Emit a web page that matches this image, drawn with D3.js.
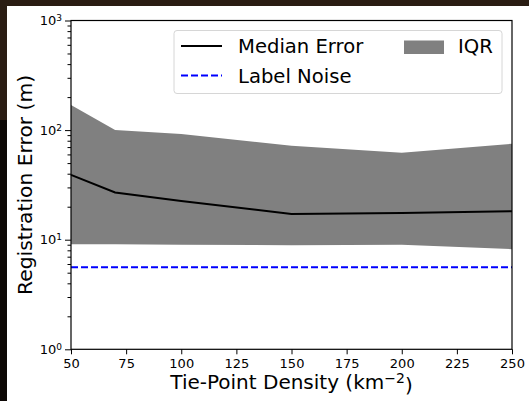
<!DOCTYPE html>
<html>
<head>
<meta charset="utf-8">
<script src="https://cdn.jsdelivr.net/npm/d3@7"></script>
<style>
  body { margin: 0; background: #1c130d; }
  text { font-family: "DejaVu Sans", sans-serif; }
</style>
</head>
<body>
<script>
const density = [50, 70, 100, 150, 200, 250]
const median = [39, 27, 22.5, 17.2, 17.5, 18.2]
const iqrHigh = [169, 100, 92, 72, 62, 75]
const iqrLow = [9.1, 9.1, 9.0, 8.9, 9.0, 8.2]
const labelNoise = 5.6
const xTicks = [50, 75, 100, 125, 150, 175, 200, 225, 250]
const yTicks = [1, 10, 100, 1000]

const WIDTH = 529
const HEIGHT = 401
const LEFT = 71
const RIGHT = 512
const TOP = 20.5
const BOTTOM = 349.3

const svg = d3.select('body').append('svg').attr('width', WIDTH).attr('height', HEIGHT)

// fond sombre + figure blanche
svg.append('rect').attr('width', WIDTH).attr('height', HEIGHT).attr('fill', '#2a1d13')
svg.append('rect').attr('x', 0).attr('y', 120).attr('width', 7).attr('height', HEIGHT - 120).attr('fill', '#0d0806')
svg.append('rect').attr('x', 7).attr('y', 6).attr('width', WIDTH - 7).attr('height', HEIGHT - 6).attr('fill', '#fff')

const x = d3.scaleLinear().domain([50, 250]).range([LEFT, RIGHT])
const y = d3.scaleLog().domain([1, 1000]).range([BOTTOM, TOP])

// IQR
const area = d3.area()
    .x((d, i) => x(density[i]))
    .y0((d, i) => y(iqrLow[i]))
    .y1((d, i) => y(iqrHigh[i]))
svg.append('path').datum(density).attr('d', area).attr('fill', '#808080')

// mediane
const line = d3.line().x((d, i) => x(density[i])).y(d => y(d))
svg.append('path').datum(median).attr('d', line)
    .attr('fill', 'none').attr('stroke', '#000').attr('stroke-width', 2)

// bruit des labels
svg.append('line')
    .attr('x1', x(50)).attr('x2', x(250))
    .attr('y1', y(labelNoise)).attr('y2', y(labelNoise))
    .attr('stroke', '#0000ff').attr('stroke-width', 2).attr('stroke-dasharray', '7,3')

// cadre
svg.append('rect').attr('x', LEFT).attr('y', TOP).attr('width', RIGHT - LEFT).attr('height', BOTTOM - TOP)
    .attr('fill', 'none').attr('stroke', '#000').attr('stroke-width', 1.2)

// axe x
const axisX = d3.axisBottom(x).tickValues(xTicks).tickSize(5).tickPadding(4)
const gx = svg.append('g').attr('transform', `translate(0, ${BOTTOM})`).call(axisX)
gx.select('.domain').remove()
gx.selectAll('text').attr('font-size', 13).attr('fill', '#000').attr('font-family', 'DejaVu Sans')

// axe y (log) : ticks mineurs
const minor = []
for (let e = 0; e < 3; e++) for (let k = 2; k < 10; k++) minor.push(k * Math.pow(10, e))
const gyMinor = svg.append('g').attr('transform', `translate(${LEFT}, 0)`)
    .call(d3.axisLeft(y).tickValues(minor).tickSize(3.5).tickFormat(''))
gyMinor.select('.domain').remove()

const gy = svg.append('g').attr('transform', `translate(${LEFT}, 0)`)
    .call(d3.axisLeft(y).tickValues(yTicks).tickSize(6).tickFormat(''))
gy.select('.domain').remove()
gy.selectAll('.tick').append('text')
    .attr('x', -9).attr('dy', '0.32em').attr('text-anchor', 'end')
    .attr('font-size', 13).attr('fill', '#000')
    .each(function (d) {
        const t = d3.select(this)
        t.append('tspan').text('10')
        t.append('tspan').attr('dy', '-0.45em').attr('font-size', 9).text(Math.round(Math.log10(d)))
    })

// titres des axes
svg.append('text').attr('x', (LEFT + RIGHT) / 2).attr('y', 389).attr('text-anchor', 'middle')
    .attr('font-size', 20).each(function () {
        const t = d3.select(this)
        t.append('tspan').text('Tie-Point Density (km')
        t.append('tspan').attr('dy', '-0.45em').attr('font-size', 14).text('\u22122')
        t.append('tspan').attr('dy', '0.45em').text(')')
    })
svg.append('text').attr('transform', `translate(32, ${(TOP + BOTTOM) / 2}) rotate(-90)`)
    .attr('text-anchor', 'middle').attr('font-size', 20.3).text('Registration Error (m)')

// legende
const leg = svg.append('g')
leg.append('rect').attr('x', 174).attr('y', 30.5).attr('width', 328).attr('height', 63).attr('rx', 3)
    .attr('fill', '#fff').attr('fill-opacity', 0.8).attr('stroke', '#d6d6d6')
leg.append('line').attr('x1', 181).attr('x2', 222).attr('y1', 46).attr('y2', 46)
    .attr('stroke', '#000').attr('stroke-width', 2)
leg.append('text').attr('x', 238).attr('y', 53).attr('font-size', 19.6).text('Median Error')
leg.append('line').attr('x1', 181).attr('x2', 222).attr('y1', 75.5).attr('y2', 75.5)
    .attr('stroke', '#0000ff').attr('stroke-width', 2).attr('stroke-dasharray', '7,3')
leg.append('text').attr('x', 238).attr('y', 82.5).attr('font-size', 19.6).text('Label Noise')
leg.append('rect').attr('x', 404).attr('y', 40.5).attr('width', 40).attr('height', 13.5).attr('fill', '#808080')
leg.append('text').attr('x', 458).attr('y', 53).attr('font-size', 19.6).text('IQR')
</script>
</body>
</html>
